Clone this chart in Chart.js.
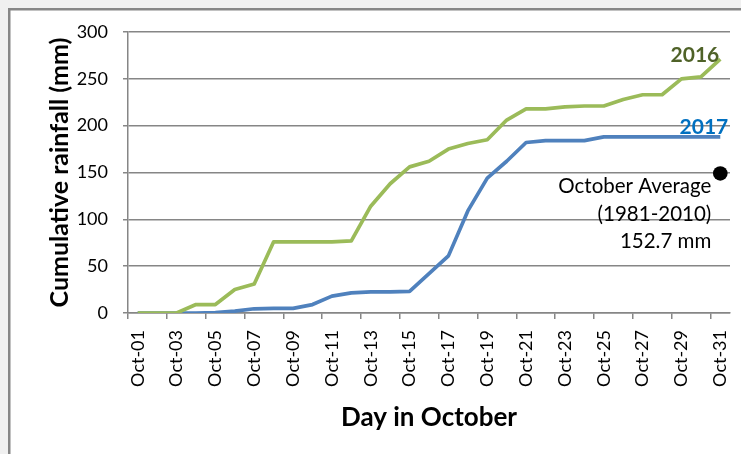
<!DOCTYPE html>
<html>
<head>
<meta charset="utf-8">
<script src="https://cdn.jsdelivr.net/npm/chart.js@4/dist/chart.umd.min.js"></script>
<style>
  html, body { margin:0; padding:0; background:#f0f0f0; }
  #wrap { width:741px; height:454px; }
</style>
</head>
<body>
<div id="wrap"><canvas id="c" width="741" height="454"></canvas></div>
<script>
/* Cumulative October rainfall, 2016 vs 2017, with the 1981-2010 average. */

const days = ["Oct-01","Oct-02","Oct-03","Oct-04","Oct-05","Oct-06","Oct-07","Oct-08","Oct-09","Oct-10",
              "Oct-11","Oct-12","Oct-13","Oct-14","Oct-15","Oct-16","Oct-17","Oct-18","Oct-19","Oct-20",
              "Oct-21","Oct-22","Oct-23","Oct-24","Oct-25","Oct-26","Oct-27","Oct-28","Oct-29","Oct-30","Oct-31"];

const rain2016 = [0,0,0,9,9,25,31,76,76,76,76,77,114,138,156,162,175,181,185,206,218,218,220,221,221,228,233,233,250,252,271];
const rain2017 = [0,0,0,0,0.5,2,4.5,5,5,9,18,21.5,22.5,22.5,23,42,61,109,144,162,182,184,184,184,188,188,188,188,188,188,188];

// average marker sits on the last day
const avgDay = "Oct-31";
const avgDot = 149;
const avgText = ["October Average", "(1981-2010)", "152.7 mm"];

const yTicks = { min:0, max:300, step:50 };

const C = { green:"#9bbb59", blue:"#4f81bd", label16:"#4f6228", label17:"#0070c0",
            grid:"#868686", frame:"#868686", outer:"#f0f0f0" };
const FONT = "Lato";

/* ---------- frame (grey margin + border like the Excel chart object) ---------- */
const framePlugin = {
  id:"frame",
  beforeDraw(chart){
    const { ctx, width, height } = chart;
    ctx.save();
    ctx.fillStyle = C.outer;
    ctx.fillRect(0, 0, width, height);
    ctx.fillStyle = "#fff";
    ctx.fillRect(9, 9, width - 9, height - 9);
    ctx.strokeStyle = C.frame;
    ctx.lineWidth = 2.5;
    ctx.beginPath();
    ctx.moveTo(9.25, height); ctx.lineTo(9.25, 9.25); ctx.lineTo(width, 9.25);
    ctx.stroke();
    ctx.restore();
  }
};

/* ---------- series labels + average note ---------- */
const notesPlugin = {
  id:"notes",
  afterDatasetsDraw(chart){
    const { ctx, scales:{ x, y } } = chart;
    const xEnd = x.getPixelForValue(days.length - 1);
    ctx.save();
    ctx.textAlign = "right";
    ctx.textBaseline = "alphabetic";
    ctx.font = `bold 21px ${FONT}`;
    ctx.fillStyle = C.label16;
    ctx.fillText("2016", xEnd - 1, y.getPixelForValue(268));
    ctx.fillStyle = C.label17;
    ctx.fillText("2017", xEnd + 8, y.getPixelForValue(191));

    ctx.font = `20.5px ${FONT}`;
    ctx.fillStyle = "#000";
    ctx.textBaseline = "middle";
    const y0 = y.getPixelForValue(134.8);
    avgText.forEach((t, i) => ctx.fillText(t, xEnd - 9, y0 + i * 27.5));
    ctx.restore();
  }
};

const avgData = days.map(d => d === avgDay ? avgDot : null);

new Chart(document.getElementById("c"), {
  type:"line",
  data:{
    labels:days,
    datasets:[
      { label:"2016", data:rain2016, borderColor:C.green, borderWidth:3.7, pointRadius:0,
        tension:0, borderJoinStyle:"round", fill:false },
      { label:"2017", data:rain2017, borderColor:C.blue, borderWidth:3.7, pointRadius:0,
        tension:0, borderJoinStyle:"round", fill:false },
      { label:"October Average", data:avgData, showLine:false, pointRadius:7.3,
        pointBackgroundColor:"#000", pointBorderWidth:0 }
    ]
  },
  options:{
    responsive:false, animation:false, devicePixelRatio:1,
    layout:{ padding:{ left:10, top:32, right:11, bottom:0 } },
    plugins:{ legend:{ display:false }, tooltip:{ enabled:false } },
    scales:{
      x:{
        offset:true,
        grid:{ offset:true, drawOnChartArea:false, drawTicks:true, tickLength:6, lineWidth:1.5,
               color: ctx => (ctx.index % 2 === 0 ? C.grid : "transparent") },
        border:{ display:true, color:C.grid, width:1.5 },
        ticks:{ autoSkip:false, minRotation:90, maxRotation:90, padding:11, color:"#000",
                font:{ family:FONT, size:18 },
                callback(v, i){ return i % 2 === 0 ? this.getLabelForValue(v) : ""; } },
        title:{ display:true, text:"Day in October", color:"#000",
                font:{ family:FONT, size:26, weight:"bold" }, padding:{ top:0, bottom:21 } },
        afterFit(s){ s.height = 141; s.paddingLeft = 0; s.paddingRight = 0; }
      },
      y:{
        min:yTicks.min, max:yTicks.max,
        grid:{ color:C.grid, lineWidth:1.5, drawTicks:true, tickLength:5 },
        border:{ display:true, color:C.grid, width:1.5 },
        ticks:{ stepSize:yTicks.step, padding:15, color:"#000", font:{ family:FONT, size:18 } },
        title:{ display:true, text:"Cumulative rainfall (mm)", color:"#000",
                font:{ family:FONT, size:25, weight:"bold" }, padding:{ top:35, bottom:0 } },
        afterFit(s){ s.width = 118; }
      }
    }
  },
  plugins:[framePlugin, notesPlugin]
});
</script>
</body>
</html>
